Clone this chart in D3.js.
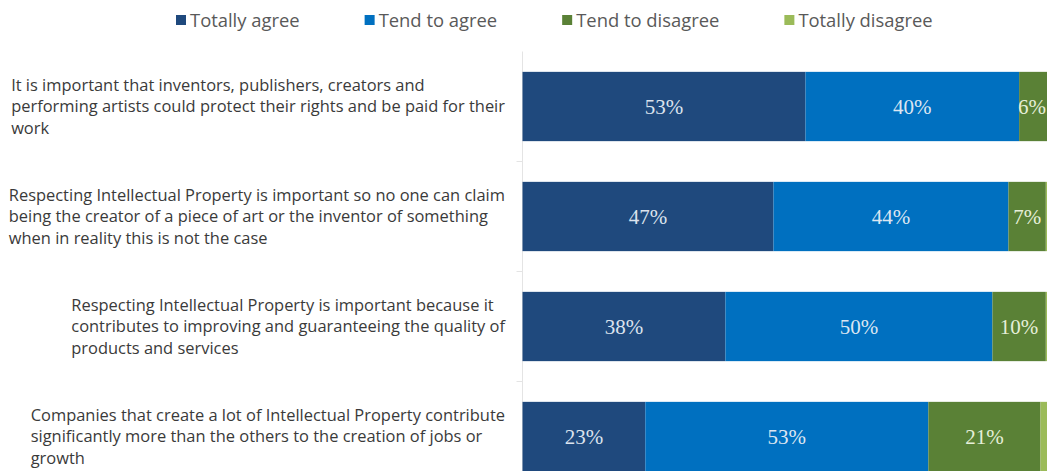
<!DOCTYPE html>
<html>
<head>
<meta charset="utf-8">
<script src="https://cdn.jsdelivr.net/npm/d3@7"></script>
<style>
  html, body { margin: 0; padding: 0; background: #ffffff; }
  svg { display: block; }
</style>
</head>
<body>
<svg id="chart" width="1047" height="471"></svg>
<script>
// Statements shown on the category axis (each entry is its wrapped lines)
const statements = [
  ["It is important that inventors, publishers, creators and",
   "performing artists could protect their rights and be paid for their",
   "work"],
  ["Respecting Intellectual Property is important so no one can claim",
   "being the creator of a piece of art or the inventor of something",
   "when in reality this is not the case"],
  ["Respecting Intellectual Property is important because it",
   "contributes to improving and guaranteeing the quality of",
   "products and services"],
  ["Companies that create a lot of Intellectual Property contribute",
   "significantly more than the others to the creation of jobs or",
   "growth"]
];

// Answer categories (stack order, left to right)
const answers = ["Totally agree", "Tend to agree", "Tend to disagree", "Totally disagree"];

// Share of respondents (%) per statement
const totallyAgree    = [53, 47, 38, 23];
const tendToAgree     = [40, 44, 50, 53];
const tendToDisagree  = [6, 7, 10, 21];
const totallyDisagree = [1, 2, 2, 3];

const colors = ["#1f497d", "#0070c0", "#5a8136", "#9bbb59"];
const labelColors = ["#dce3ee", "#dce6f2", "#e6efd9", "#ffffff"];

const W = 1047;

const rows = statements.map((s, i) => ({
  key: i,
  lines: s,
  "Totally agree": totallyAgree[i],
  "Tend to agree": tendToAgree[i],
  "Tend to disagree": tendToDisagree[i],
  "Totally disagree": totallyDisagree[i]
}));

const svg = d3.select("#chart");

const x = d3.scaleLinear().domain([0, 100]).range([522.5, 1056.5]);
const y = d3.scaleBand()
  .domain(rows.map(d => d.key))
  .range([51.5, 491.5])
  .paddingInner(0.37)
  .paddingOuter(0.185);

const stacked = d3.stack().keys(answers)(rows);

// Category axis line and band separators
const axisG = svg.append("g").attr("transform", `translate(${x(0)},0)`);
axisG.append("line")
  .attr("x1", 0).attr("x2", 0)
  .attr("y1", y.range()[0]).attr("y2", 471)
  .attr("stroke", "#e4e4e4").attr("stroke-width", 1);
const step = y.step();
const boundaries = d3.range(rows.length).map(i => y.range()[0] + i * step);
axisG.selectAll("line.tick")
  .data(boundaries.slice(1))
  .join("line")
  .attr("class", "tick")
  .attr("x1", -6).attr("x2", 0)
  .attr("y1", d => d).attr("y2", d => d)
  .attr("stroke", "#e4e4e4");

// Stacked bars
const layers = svg.append("g").selectAll("g")
  .data(stacked)
  .join("g")
  .attr("fill", (d, i) => colors[i]);

layers.selectAll("rect")
  .data(d => d)
  .join("rect")
  .attr("x", d => x(d[0]))
  .attr("y", d => y(d.data.key))
  .attr("width", d => x(d[1]) - x(d[0]))
  .attr("height", y.bandwidth());

// Value labels inside segments (kept inside the drawing area)
const valueG = svg.append("g")
  .attr("font-family", "'Liberation Serif', 'DejaVu Serif', serif")
  .attr("font-size", 21)
  .attr("text-anchor", "middle");

stacked.forEach((layer, li) => {
  valueG.selectAll(null)
    .data(layer.filter(d => d[1] - d[0] >= 5))
    .join("text")
    .attr("y", d => y(d.data.key) + y.bandwidth() / 2)
    .attr("dy", "0.35em")
    .attr("fill", labelColors[li])
    .text(d => `${d[1] - d[0]}%`)
    .attr("x", function(d) {
      const cx = (x(d[0]) + x(d[1])) / 2;
      const half = this.getComputedTextLength() / 2;
      return Math.min(cx, W - half - 1);
    });
});

// Category labels: left-aligned lines, block right-aligned to the axis
const labelRight = 505;
const lineH = 21.5;
const catG = svg.append("g")
  .attr("font-family", "'Open Sans', 'Noto Sans', sans-serif")
  .attr("font-size", 16.45)
  .attr("fill", "#3a3a3a");

rows.forEach(r => {
  const t = catG.append("text");
  const cy = y(r.key) + y.bandwidth() / 2;
  const n = r.lines.length;
  r.lines.forEach((ln, i) => {
    t.append("tspan")
      .attr("y", cy + (i - (n - 1) / 2) * lineH)
      .attr("dy", "0.35em")
      .text(ln);
  });
  let maxW = 0;
  t.selectAll("tspan").each(function() {
    maxW = Math.max(maxW, this.getComputedTextLength());
  });
  t.selectAll("tspan").attr("x", labelRight - maxW);
});

// Legend
const legend = svg.append("g")
  .attr("font-family", "'Open Sans', 'Noto Sans', sans-serif")
  .attr("font-size", 18.4)
  .attr("fill", "#595959");

let lx = 176;
answers.forEach((a, i) => {
  const g = legend.append("g").attr("transform", `translate(${lx},0)`);
  g.append("rect")
    .attr("x", 0).attr("y", 15)
    .attr("width", 10).attr("height", 10)
    .attr("fill", colors[i]);
  const t = g.append("text")
    .attr("x", 14).attr("y", 20)
    .attr("dy", "0.36em")
    .text(a);
  lx += 14 + t.node().getComputedTextLength() + 65;
});
</script>
</body>
</html>
